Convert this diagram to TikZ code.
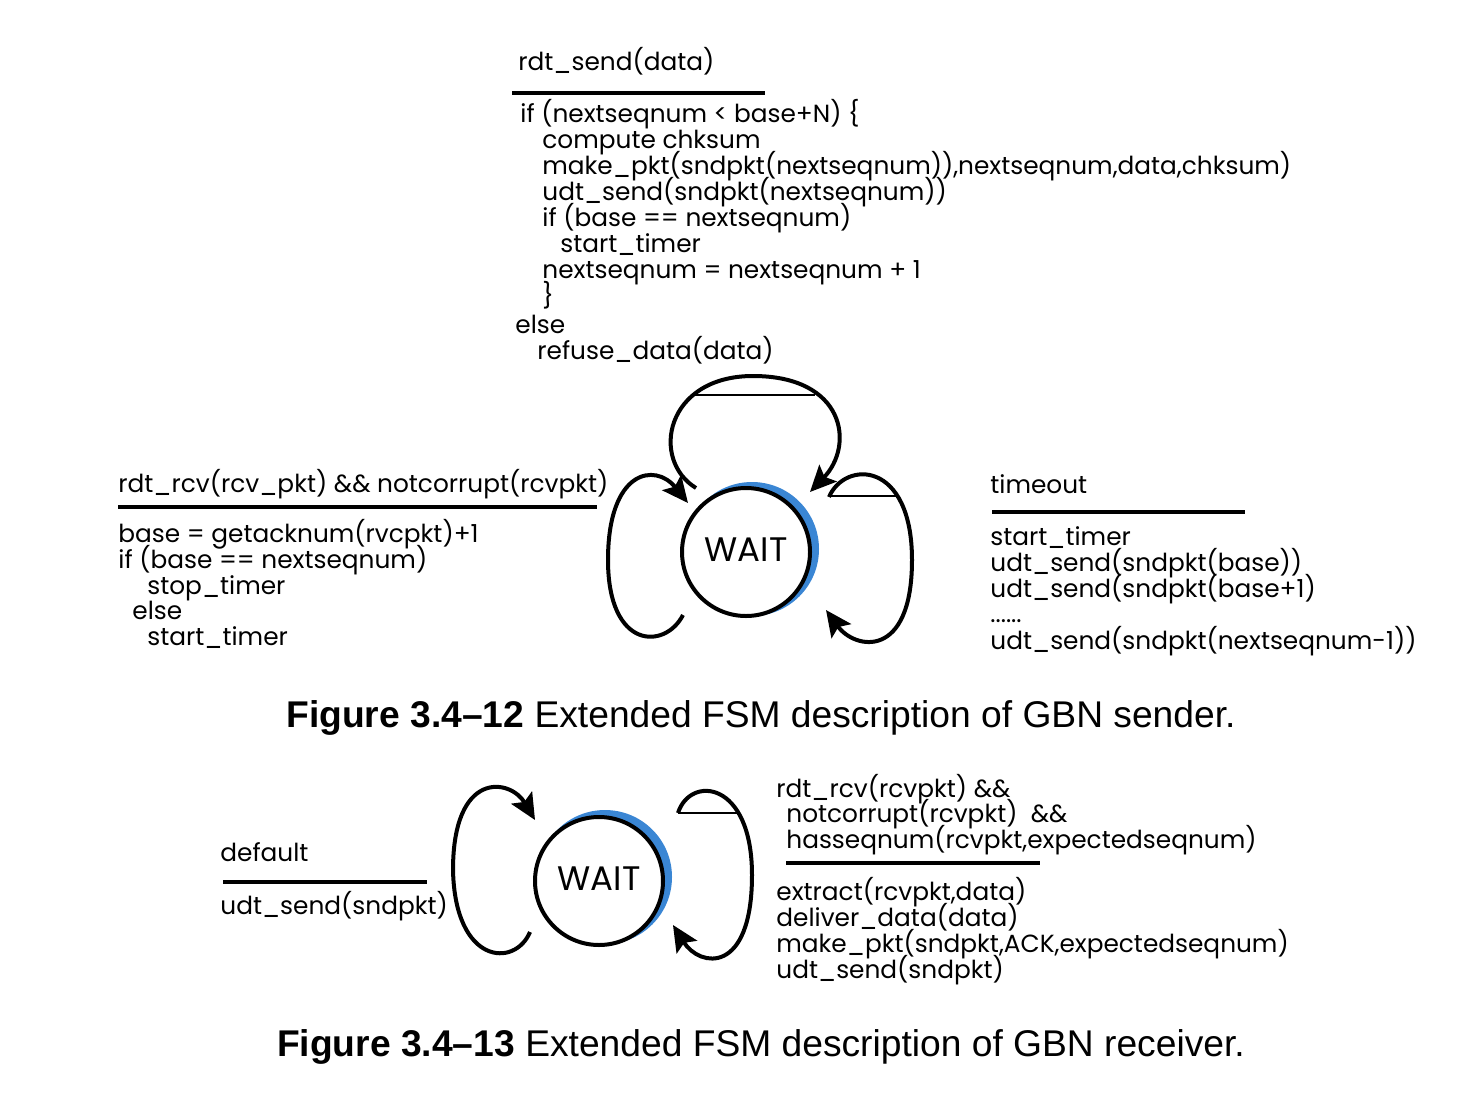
\documentclass[tikz,border=0pt]{standalone}
\usepackage{fontspec}
\setmainfont{Poppins}
\newfontfamily\capfont{Liberation Sans}
\usetikzlibrary{arrows.meta}
\definecolor{stateblue}{RGB}{58,134,212}
\tikzset{
  codeline/.style={anchor=base west, inner sep=0pt, font=\fontsize{12.4}{12.4}\selectfont},
  guardrule/.style={line width=2pt},
  fsmloop/.style={line width=2pt, -{Stealth[length=13pt,width=12pt,inset=2.5pt]}},
  chord/.style={line width=0.8pt},
  fsmstate/.style={circle, draw, line width=2pt, fill=white, minimum size=64pt, inner sep=0pt, font=\fontsize{17}{17}\selectfont},
  captiontext/.style={anchor=base, inner sep=0pt, font=\capfont\fontsize{18.6}{18.6}\selectfont},
}
\begin{document}
\begin{tikzpicture}[x=0.5pt,y=-0.5pt]
\useasboundingbox (0,0) rectangle (1468,1114);

% ---------------- sender ----------------
\fill[stateblue] (752,549) circle[radius=33.5pt];
\node[fsmstate] (sw) at (746,552) {\raisebox{2pt}{WAIT}};

% top self loop
\coordinate (stA) at (696,488);
\coordinate (stB) at (810,492);
\draw[fsmloop] (stA) .. controls (650,460) and (665,376) .. (753,376)
                      .. controls (845,376) and (855,445) .. (stB);
\draw[chord] (693,395) -- (815,395);

% left self loop
\coordinate (slA) at (683,615);
\coordinate (slB) at (688,503);
\draw[fsmloop] (slA) .. controls (665,650) and (608,650) .. (608,560)
                      .. controls (608,470) and (655,462) .. (slB);

% right self loop
\coordinate (srA) at (829,497);
\coordinate (srB) at (826,610);
\draw[fsmloop] (srA) .. controls (845,460) and (912,460) .. (912,560)
                      .. controls (912,660) and (855,650) .. (srB);
\draw[chord] (829,496) -- (897,496);

% top text
\node[codeline] (s0) at (518,70) {rdt\_send(data)};
\draw[guardrule] (512,93) -- (765,93);
\node[codeline] (s1) at (520,122) {if (nextseqnum < base+N) \{};
\node[codeline] (s2) at (542,148) {compute chksum};
\node[codeline] (s3) at (542,174) {make\_pkt(sndpkt(nextseqnum)),nextseqnum,data,chksum)};
\node[codeline] (s4) at (542,200) {udt\_send(sndpkt(nextseqnum))};
\node[codeline] (s5) at (542,226) {if (base == nextseqnum)};
\node[codeline] (s6) at (560,252) {start\_timer};
\node[codeline] (s7) at (542,278) {nextseqnum = nextseqnum + 1};
\node[codeline] (s8) at (542,304) {\}};
\node[codeline] (s9) at (515,333) {else};
\node[codeline] (s10) at (537,359) {refuse\_data(data)};

% left text
\node[codeline] (l0) at (118,492) {rdt\_rcv(rcv\_pkt) \&\& notcorrupt(rcvpkt)};
\draw[guardrule] (118,507) -- (597,507);
\node[codeline] (l1) at (118,542) {base = getacknum(rvcpkt)+1};
\node[codeline] (l2) at (118,568) {if (base == nextseqnum)};
\node[codeline] (l3) at (147,594) {stop\_timer};
\node[codeline] (l4) at (132,619) {else};
\node[codeline] (l5) at (147,645) {start\_timer};

% right text
\node[codeline] (r0) at (990,493) {timeout};
\draw[guardrule] (992,512) -- (1245,512);
\node[codeline] (r1) at (990,545) {start\_timer};
\node[codeline] (r2) at (990,571) {udt\_send(sndpkt(base))};
\node[codeline] (r3) at (990,597) {udt\_send(sndpkt(base+1)};
\node[codeline] (r4) at (990,622) {......};
\node[codeline] (r5) at (990,649) {udt\_send(sndpkt(nextseqnum-1))};

\node[captiontext] (cap1) at (761,727) {\textbf{Figure 3.4–12} Extended FSM description of GBN sender.};

% ---------------- receiver ----------------
\fill[stateblue] (605,877) circle[radius=33.5pt];
\node[fsmstate] (rw) at (599,881) {\raisebox{2pt}{WAIT}};

\coordinate (rlA) at (530,932);
\coordinate (rlB) at (535,820);
\draw[fsmloop] (rlA) .. controls (515,968) and (455,965) .. (453,870)
                      .. controls (453,770) and (510,778) .. (rlB);

\coordinate (rrA) at (678,813);
\coordinate (rrB) at (673,925);
\draw[fsmloop] (rrA) .. controls (690,775) and (752,780) .. (752,875)
                      .. controls (752,975) and (700,968) .. (rrB);
\draw[chord] (678,813) -- (738,813);

\node[codeline] (d0) at (220,861) {default};
\draw[guardrule] (223,882) -- (427,882);
\node[codeline] (d1) at (220,914) {udt\_send(sndpkt)};

\node[codeline] (e0) at (776,797) {rdt\_rcv(rcvpkt) \&\&};
\node[codeline] (e1) at (786,822) {notcorrupt(rcvpkt)\ \ \&\&};
\node[codeline] (e2) at (786,848) {hasseqnum(rcvpkt,expectedseqnum)};
\draw[guardrule] (786,863) -- (1040,863);
\node[codeline] (e3) at (776,900) {extract(rcvpkt,data)};
\node[codeline] (e4) at (776,926) {deliver\_data(data)};
\node[codeline] (e5) at (776,952) {make\_pkt(sndpkt,ACK,expectedseqnum)};
\node[codeline] (e6) at (776,978) {udt\_send(sndpkt)};

\node[captiontext] (cap2) at (761,1056) {\textbf{Figure 3.4–13} Extended FSM description of GBN receiver.};
\end{tikzpicture}
\end{document}
